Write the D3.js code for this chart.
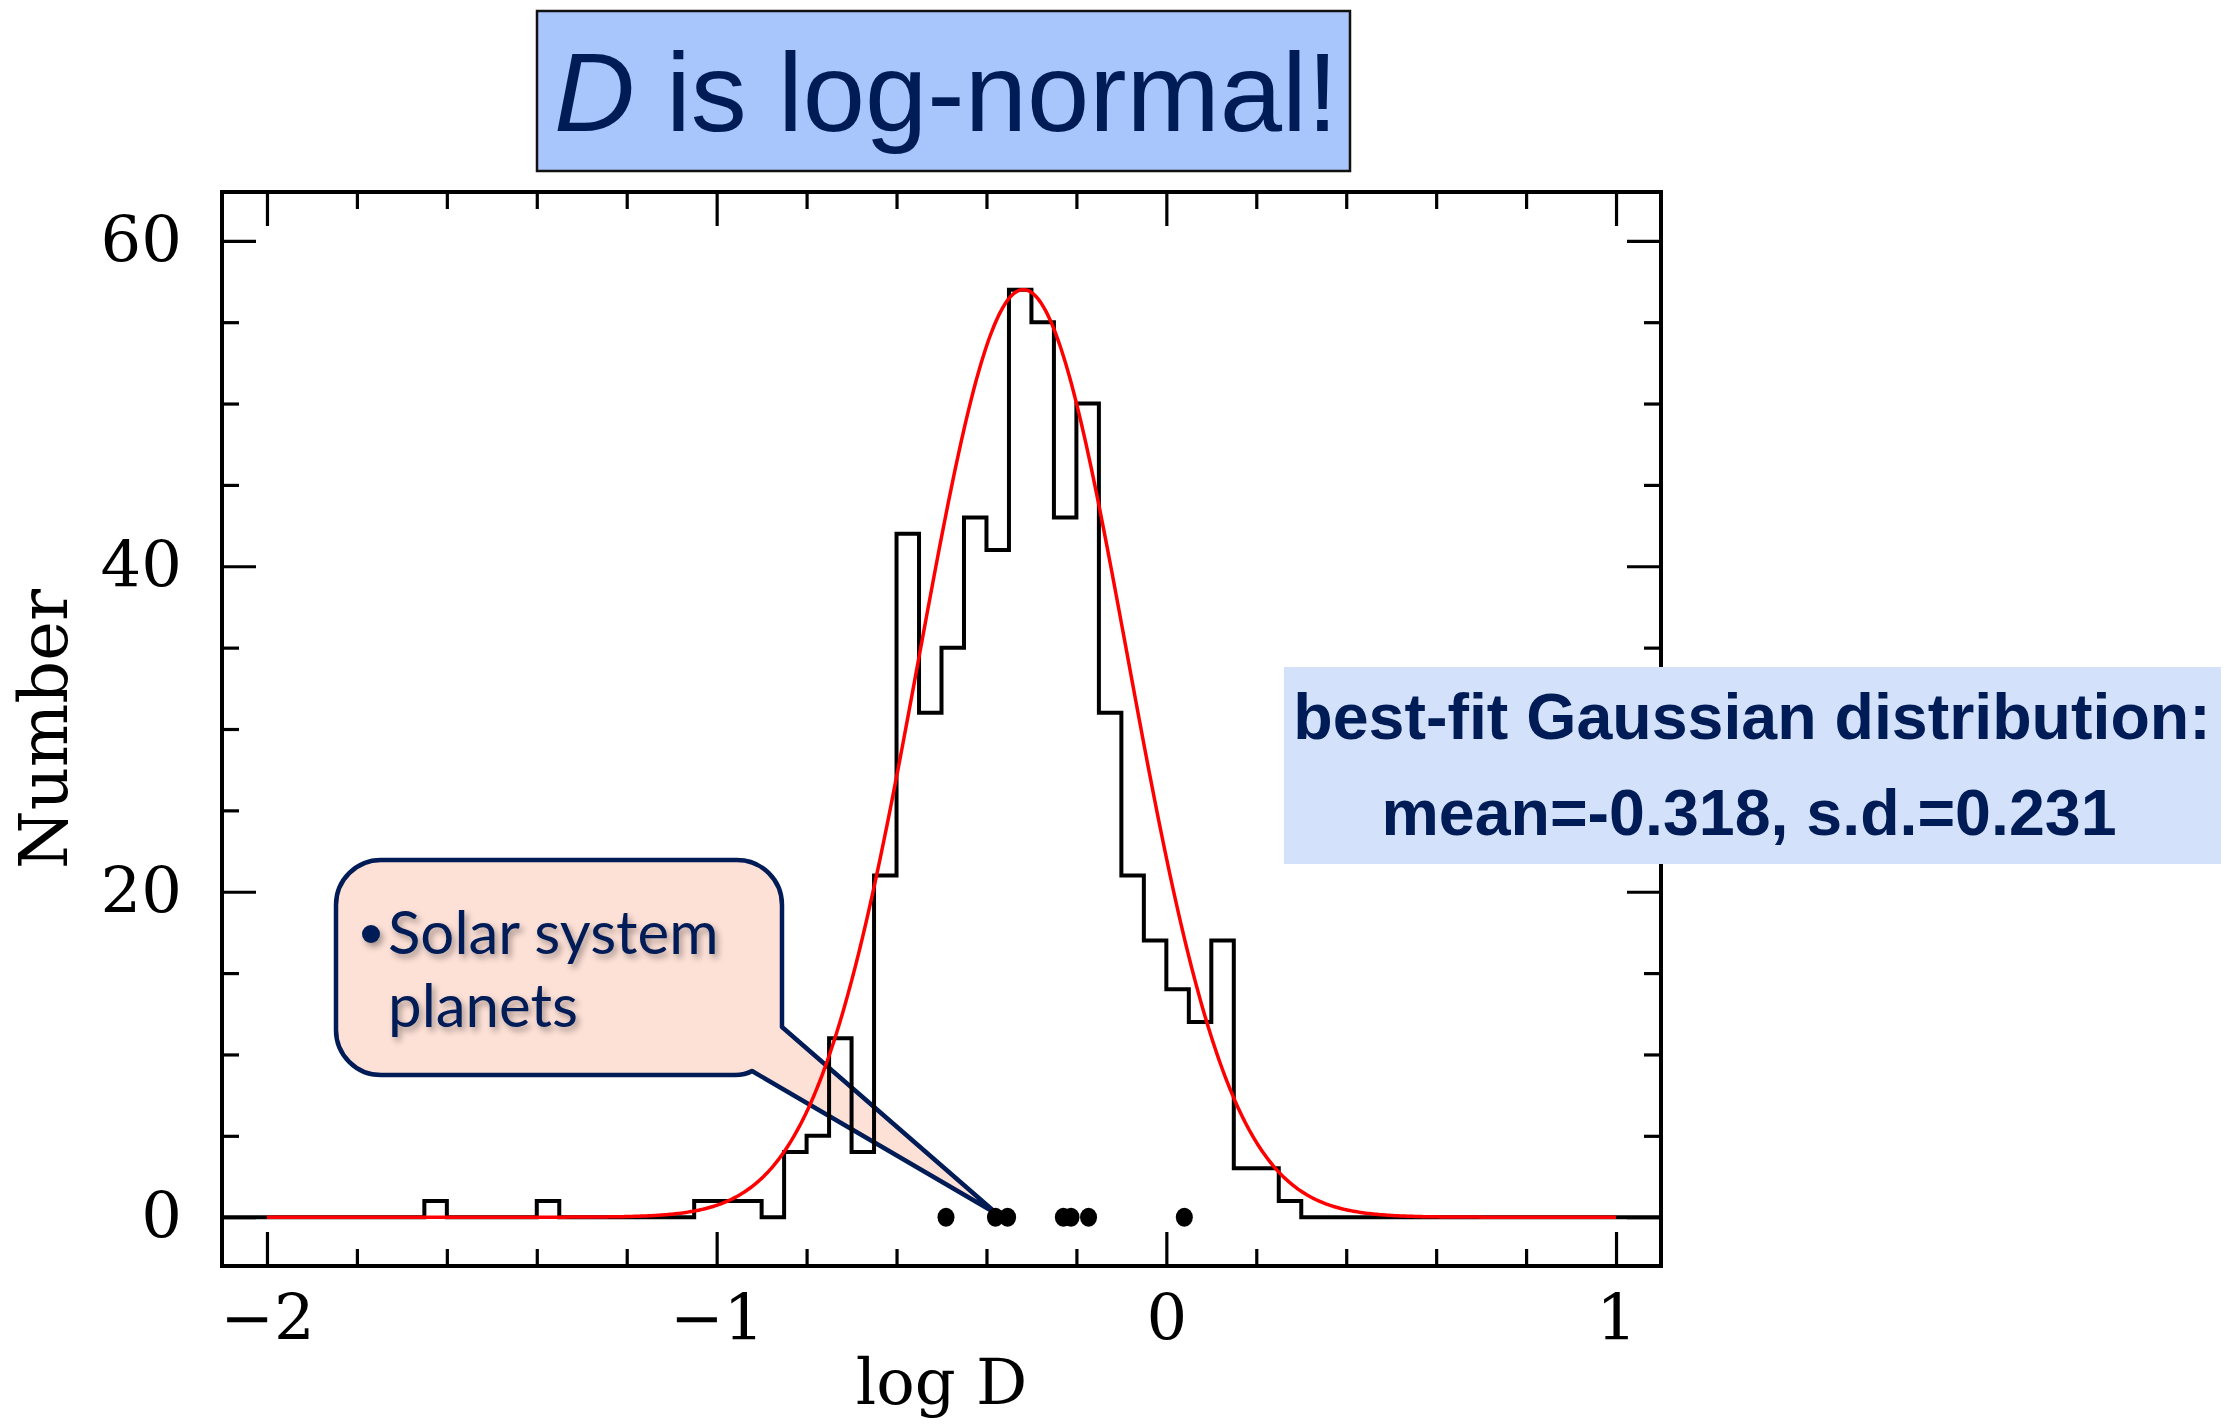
<!DOCTYPE html>
<html>
<head>
<meta charset="utf-8">
<script src="https://cdn.jsdelivr.net/npm/d3@7"></script>
<style>
  html, body { margin: 0; padding: 0; background: #ffffff; }
  svg { display: block; }
</style>
</head>
<body>
<svg id="chart" width="2235" height="1424"></svg>
<script>
// Histogram of log D: bins of width 0.05 starting at log D = -1.70
const binStart = -1.70;
const binWidth = 0.05;
const counts = [0,1,0,0,0,0,1,0,0,0,0,0,0,1,1,1,0,4,5,11,4,21,42,31,35,43,41,57,55,43,50,31,21,17,14,12,17,3,3,1,0];

// Best-fit Gaussian
const fitMean = -0.318;
const fitSD = 0.231;
const fitPeak = 57;

// Solar system planets (log D)
const planetLogD = [-0.49, -0.38, -0.353, -0.229, -0.212, -0.173, 0.04];

// Axis ticks
const xMajor = [-2, -1, 0, 1];
const xMinor = [-1.8, -1.6, -1.4, -1.2, -0.8, -0.6, -0.4, -0.2, 0.2, 0.4, 0.6, 0.8];
const xLabels = ["\u22122", "\u22121", "0", "1"];
const yMajor = [0, 20, 40, 60];
const yMinor = [5, 10, 15, 25, 30, 35, 45, 50, 55];
const yLabels = ["0", "20", "40", "60"];

const navy = "#001c57";
const svg = d3.select("#chart");

const plotLeft = 222, plotRight = 1661, plotTop = 192, plotBottom = 1266;
const x = d3.scaleLinear().domain([-2.1, 1.1]).range([plotLeft, plotRight]);
const y = d3.scaleLinear().domain([-3, 63]).range([plotBottom, plotTop]);

// drop shadow for callout text
const defs = svg.append("defs");
const f = defs.append("filter").attr("id", "txtShadow").attr("x", "-10%").attr("y", "-20%").attr("width", "130%").attr("height", "150%");
f.append("feDropShadow").attr("dx", 3).attr("dy", 4).attr("stdDeviation", 3)
  .attr("flood-color", "#000").attr("flood-opacity", 0.35);

// ---- Title box ----
svg.append("rect")
  .attr("x", 537).attr("y", 11).attr("width", 813).attr("height", 160)
  .attr("fill", "#a8c5fc").attr("stroke", "#111").attr("stroke-width", 2.5);
const title = svg.append("text")
  .attr("x", 946).attr("y", 131)
  .attr("text-anchor", "middle")
  .attr("font-family", "'Liberation Sans', Arial, sans-serif")
  .attr("font-size", 112)
  .attr("fill", navy);
title.append("tspan").attr("font-style", "italic").text("D");
title.append("tspan").text(" is log-normal!");

// ---- Callout bubble (drawn beneath the plot lines) ----
const tipX = x(-0.38) + 2, tipY = y(0) - 3;
const bx0 = 336, by0 = 860, bx1 = 782, by1 = 1075, br = 45;
const bubblePath = [
  `M${bx0 + br},${by0}`,
  `H${bx1 - br}`,
  `A${br},${br} 0 0 1 ${bx1},${by0 + br}`,
  `V1027`,
  `L${tipX},${tipY}`,
  `L752,1071`,
  `Q745,${by1} 735,${by1}`,
  `H${bx0 + br}`,
  `A${br},${br} 0 0 1 ${bx0},${by1 - br}`,
  `V${by0 + br}`,
  `A${br},${br} 0 0 1 ${bx0 + br},${by0}`,
  "Z"
].join(" ");
svg.append("path")
  .attr("d", bubblePath)
  .attr("fill", "#fde0d6")
  .attr("stroke", navy)
  .attr("stroke-width", 4.5)
  .attr("stroke-linejoin", "round");

const callout = svg.append("g")
  .attr("font-family", "Lato, 'Open Sans', sans-serif")
  .attr("font-size", 60)
  .attr("fill", navy)
  .attr("filter", "url(#txtShadow)");
callout.append("circle").attr("cx", 371).attr("cy", 934).attr("r", 9).attr("fill", navy);
callout.append("text").attr("x", 388).attr("y", 954).text("Solar system");
callout.append("text").attr("x", 388).attr("y", 1027).text("planets");

// ---- Axes: ticks on all four sides, pointing inward ----
const tickFont = "'DejaVu Serif', serif";
function styleAxis(g) {
  g.select(".domain").remove();
  g.selectAll("line").attr("stroke", "#000").attr("stroke-width", 3.2);
  g.selectAll("text").attr("font-family", tickFont).attr("font-size", 64).attr("fill", "#000");
}
// bottom
svg.append("g").attr("transform", `translate(0,${plotBottom})`)
  .call(d3.axisBottom(x).tickValues(xMinor).tickSize(-17).tickFormat(""))
  .call(styleAxis);
svg.append("g").attr("transform", `translate(0,${plotBottom})`)
  .call(d3.axisBottom(x).tickValues(xMajor).tickSize(-34).tickPadding(29)
    .tickFormat((d, i) => xLabels[i]))
  .call(styleAxis);
// top
svg.append("g").attr("transform", `translate(0,${plotTop})`)
  .call(d3.axisTop(x).tickValues(xMinor).tickSize(-17).tickFormat(""))
  .call(styleAxis);
svg.append("g").attr("transform", `translate(0,${plotTop})`)
  .call(d3.axisTop(x).tickValues(xMajor).tickSize(-34).tickFormat(""))
  .call(styleAxis);
// left
svg.append("g").attr("transform", `translate(${plotLeft},0)`)
  .call(d3.axisLeft(y).tickValues(yMinor).tickSize(-17).tickFormat(""))
  .call(styleAxis);
svg.append("g").attr("transform", `translate(${plotLeft},0)`)
  .call(d3.axisLeft(y).tickValues(yMajor).tickSize(-34).tickPadding(40)
    .tickFormat((d, i) => yLabels[i]))
  .call(styleAxis);
// right
svg.append("g").attr("transform", `translate(${plotRight},0)`)
  .call(d3.axisRight(y).tickValues(yMinor).tickSize(-17).tickFormat(""))
  .call(styleAxis);
svg.append("g").attr("transform", `translate(${plotRight},0)`)
  .call(d3.axisRight(y).tickValues(yMajor).tickSize(-34).tickFormat(""))
  .call(styleAxis);

// frame
svg.append("rect")
  .attr("x", plotLeft).attr("y", plotTop).attr("width", plotRight - plotLeft).attr("height", plotBottom - plotTop)
  .attr("fill", "none").attr("stroke", "#000").attr("stroke-width", 4);

// axis titles
svg.append("text")
  .attr("x", (plotLeft + plotRight) / 2).attr("y", 1404)
  .attr("text-anchor", "middle")
  .attr("font-family", tickFont).attr("font-size", 64)
  .text("log D");
svg.append("text")
  .attr("transform", `translate(67,${(plotTop + plotBottom) / 2}) rotate(-90)`)
  .attr("text-anchor", "middle")
  .attr("font-family", tickFont).attr("font-size", 67)
  .text("Number");

// ---- Histogram outline ----
const histPts = [[x.domain()[0], 0]];
counts.forEach((c, i) => {
  const lo = binStart + i * binWidth;
  histPts.push([lo, c], [lo + binWidth, c]);
});
histPts.push([x.domain()[1], 0]);
svg.append("path")
  .datum(histPts)
  .attr("d", d3.line().x(d => x(d[0])).y(d => y(d[1])))
  .attr("fill", "none")
  .attr("stroke", "#000")
  .attr("stroke-width", 4)
  .attr("stroke-linejoin", "miter");

// ---- Gaussian fit curve ----
const gaussPts = d3.range(-2, 1.0001, 0.004).map(v =>
  [v, fitPeak * Math.exp(-0.5 * Math.pow((v - fitMean) / fitSD, 2))]);
svg.append("path")
  .datum(gaussPts)
  .attr("d", d3.line().x(d => x(d[0])).y(d => y(d[1])))
  .attr("fill", "none")
  .attr("stroke", "#ff0000")
  .attr("stroke-width", 3.5);

// ---- Solar system planets ----
svg.append("g").selectAll("ellipse")
  .data(planetLogD)
  .join("ellipse")
  .attr("cx", d => x(d)).attr("cy", y(0))
  .attr("rx", 8.5).attr("ry", 9.5)
  .attr("fill", "#000");

// ---- Fit parameters box (drawn over the right frame) ----
svg.append("rect")
  .attr("x", 1284).attr("y", 667).attr("width", 937).attr("height", 197)
  .attr("fill", "#d4e1fa");
const fitText = svg.append("g")
  .attr("font-family", "'Liberation Sans', Arial, sans-serif")
  .attr("font-weight", "bold")
  .attr("font-size", 64.5)
  .attr("text-anchor", "middle")
  .attr("fill", navy);
fitText.append("text").attr("x", 1752).attr("y", 739).text("best-fit Gaussian distribution:");
fitText.append("text").attr("x", 1749).attr("y", 835).text(`mean=${fitMean}, s.d.=${fitSD}`);
</script>
</body>
</html>
